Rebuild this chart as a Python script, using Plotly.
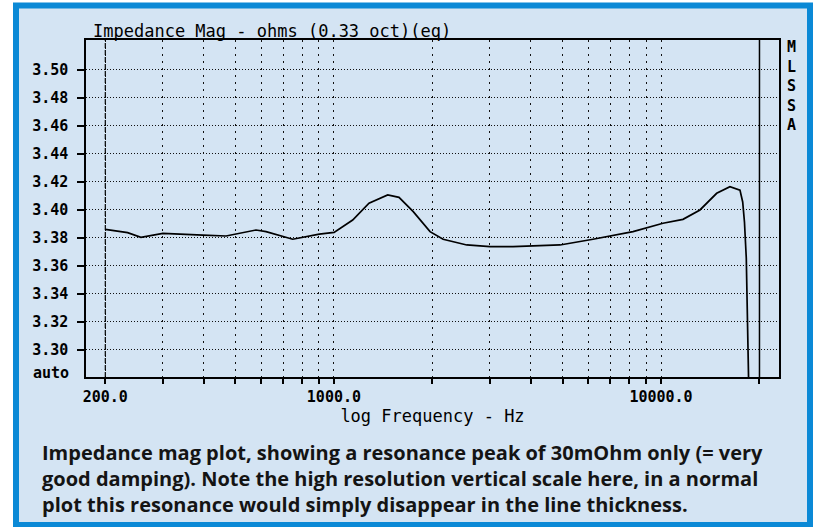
import plotly.graph_objects as go

# ---- data ----
freq_hz = [200, 234, 257, 300, 397, 468, 578, 620, 748, 902, 1001, 1141, 1280,
           1460, 1581, 1748, 1967, 2157, 2547, 3000, 3528, 4910, 6194, 8211,
           10140, 11672, 13154, 14796, 16244, 17434, 17770, 17995, 18225,
           18380, 18575, 18800]
impedance_ohm = [3.386, 3.3836, 3.3803, 3.3831, 3.3819, 3.3812, 3.3855, 3.3843,
                 3.3789, 3.3826, 3.3838, 3.3926, 3.4046, 3.4105, 3.4088, 3.3986,
                 3.3843, 3.3789, 3.3748, 3.3736, 3.3736, 3.3748, 3.3789, 3.3843,
                 3.3903, 3.3931, 3.3998, 3.4117, 3.4164, 3.4140, 3.4055, 3.3910,
                 3.3655, 3.3300, 3.2810, 3.2000]

y_tick_vals = [3.30, 3.32, 3.34, 3.36, 3.38, 3.40, 3.42, 3.44, 3.46, 3.48, 3.50]
x_tick_vals = [200, 300, 400, 500, 600, 700, 800, 900, 1000,
               2000, 3000, 4000, 5000, 6000, 7000, 8000, 9000, 10000, 20000]
x_tick_labels = {200: "200.0", 1000: "1000.0", 10000: "10000.0"}

title_text = "Impedance Mag - ohms (0.33 oct)(eq)"
x_title = "log Frequency - Hz"
side_text = "MLSSA"
caption_lines = [
    "Impedance mag plot, showing a resonance peak of 30mOhm only (= very",
    "good damping). Note the high resolution vertical scale here, in a normal",
    "plot this resonance would simply disappear in the line thickness.",
]

BG = "#d4e4f3"
BLUE = "#0b89d6"
MONO = "DejaVu Sans Mono"

# plot area geometry in pixels (for converting paper coords)
L, R, T, B = 86, 779, 40, 377
W, H = 815, 527


def px_x(p):
    return (p - L) / (R - L)


def px_y(p):
    return (B - p) / (B - T)


fig = go.Figure()
fig.add_trace(go.Scatter(x=freq_hz, y=impedance_ohm, mode="lines",
                         line=dict(color="black", width=1.7),
                         hoverinfo="skip", showlegend=False))

fig.update_layout(
    width=W, height=H, autosize=False,
    margin=dict(l=L, r=W - R, t=T, b=H - B, pad=0),
    paper_bgcolor="white",
    plot_bgcolor="rgba(0,0,0,0)",
    title=dict(text=title_text, x=px_x(93), xref="paper", xanchor="left",
               y=1 - 31 / H, yref="container", yanchor="middle",
               font=dict(family=MONO, size=17, color="black")),
    xaxis=dict(
        type="log", range=[2.242, 4.3607],
        tickvals=x_tick_vals,
        ticktext=[x_tick_labels.get(v, "") for v in x_tick_vals],
        showgrid=True, gridcolor="#111111", gridwidth=1, griddash="2px,5px",
        showline=True, linecolor="black", linewidth=1.5, mirror=True,
        ticks="outside", ticklen=5, tickcolor="black", tickwidth=1.5,
        tickfont=dict(family=MONO, size=15, color="black", weight="bold"),
        zeroline=False,
        title=dict(text=x_title, standoff=4,
                   font=dict(family=MONO, size=17, color="black")),
    ),
    yaxis=dict(
        range=[3.2805, 3.5212],
        tickvals=y_tick_vals, tickformat=".2f",
        showgrid=True, gridcolor="#111111", gridwidth=1, griddash="1px,2px",
        showline=True, linecolor="black", linewidth=1.5, mirror=True,
        ticks="outside", ticklen=7, tickcolor="black", tickwidth=1.5,
        ticklabelstandoff=6,
        tickfont=dict(family=MONO, size=15, color="black", weight="bold"),
        zeroline=False,
    ),
)

# outer blue frame with light-blue fill
fig.add_shape(type="rect", xref="paper", yref="paper",
              x0=px_x(16), x1=px_x(810), y0=px_y(525), y1=px_y(5.5),
              line=dict(color=BLUE, width=6), fillcolor=BG, layer="below")
# solid line at 20 kHz
fig.add_shape(type="line", xref="x", yref="paper", x0=20000, x1=20000,
              y0=0, y1=1, line=dict(color="black", width=1.5))
# dashed reference line at 200 Hz
fig.add_shape(type="line", xref="x", yref="paper", x0=200, x1=200,
              y0=0, y1=1, line=dict(color="black", width=1.2, dash="5px,2px"))

fig.add_annotation(text="auto", xref="paper", yref="y", x=px_x(71), y=3.2832,
                   xanchor="right", yanchor="middle", showarrow=False,
                   font=dict(family=MONO, size=15, color="black", weight="bold"))
fig.add_annotation(text="<br>".join(side_text), xref="paper", yref="paper",
                   x=px_x(791), y=px_y(86), xanchor="center", yanchor="middle",
                   showarrow=False,
                   font=dict(family=MONO, size=15, color="black", weight="bold"))

fig.add_annotation(text="<br>".join(caption_lines), xref="paper", yref="paper",
                   x=px_x(40), y=px_y(478), align="left",
                   xanchor="left", yanchor="middle", showarrow=False,
                   font=dict(family="Open Sans", size=20, color="#141414",
                             weight="bold"))

fig.write_html(
    "out.html",
    config={"displayModeBar": False},
    post_script="document.body.style.margin='0px';"
                "document.body.style.overflow='hidden';",
)
